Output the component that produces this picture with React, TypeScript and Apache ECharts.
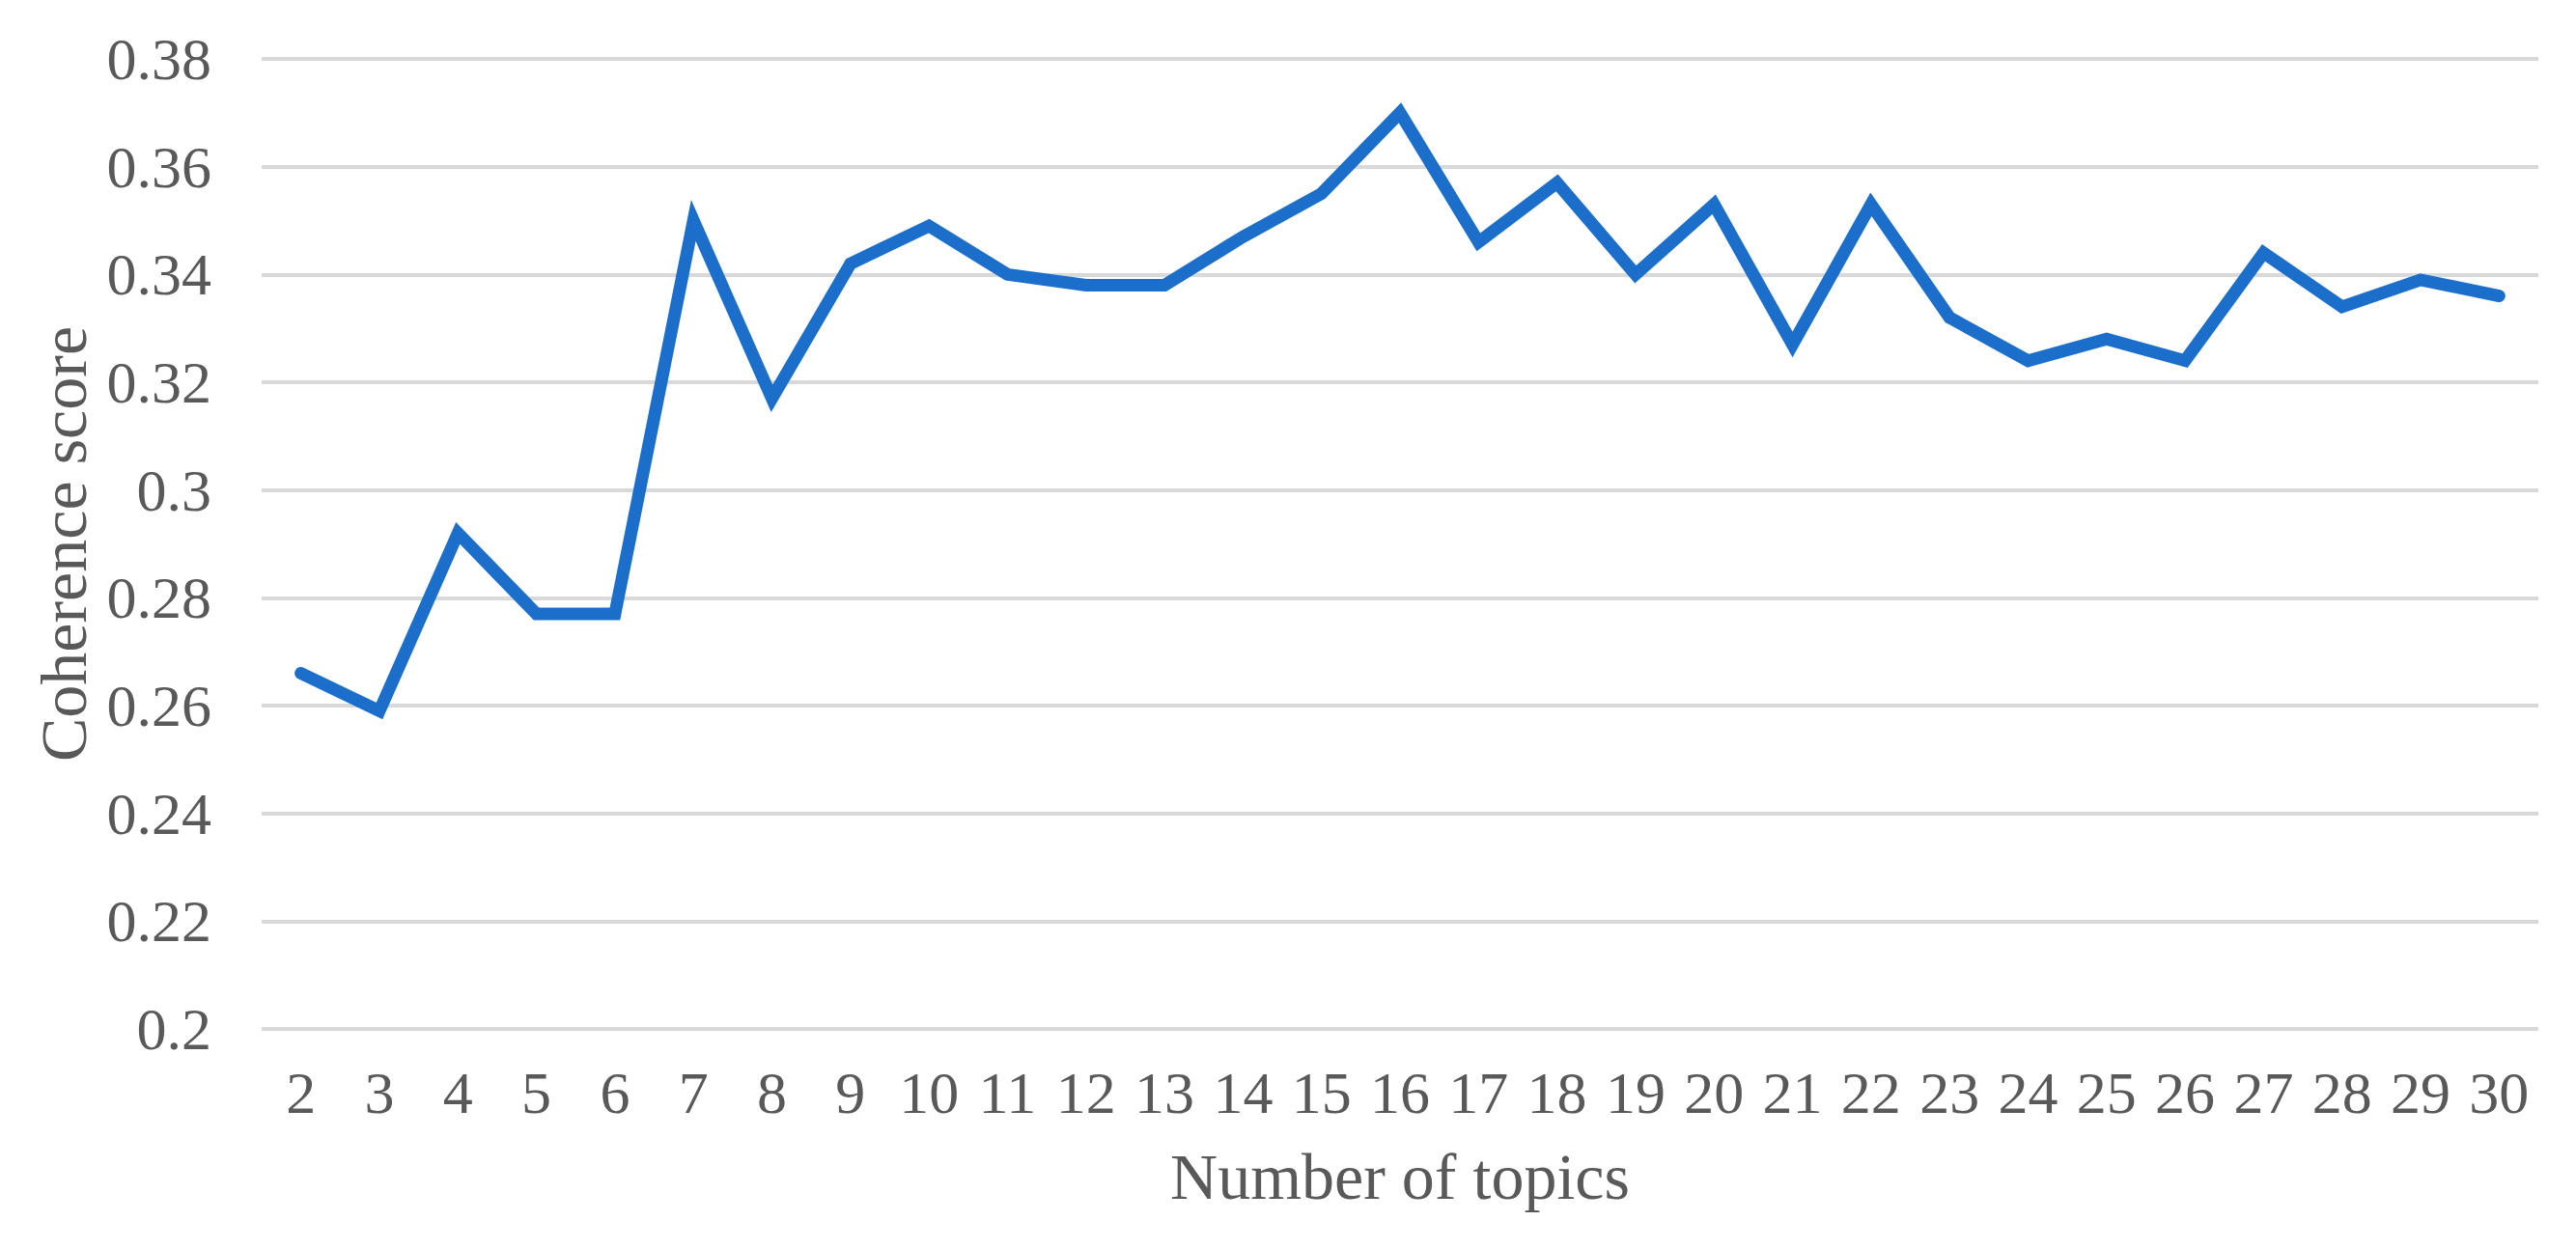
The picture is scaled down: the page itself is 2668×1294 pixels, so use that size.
import React, { useEffect, useRef } from "react";
import * as echarts from "echarts";

const topics = ["2","3","4","5","6","7","8","9","10","11","12","13","14","15","16","17","18","19","20","21","22","23","24","25","26","27","28","29","30"];
const scores = [0.266,0.259,0.292,0.277,0.277,0.350,0.317,0.342,0.349,0.340,0.338,0.338,0.347,0.355,0.370,0.346,0.357,0.340,0.353,0.327,0.353,0.332,0.324,0.328,0.324,0.344,0.334,0.339,0.336];
const yMin = 0.2;
const yMax = 0.38;
const yStep = 0.02;
const xTitle = "Number of topics";
const yTitle = "Coherence score";

const FONT = "Liberation Serif";
const TEXT = "#595959";

export default function App() {
  const ref = useRef<HTMLDivElement>(null);
  useEffect(() => {
    if (!ref.current) return;
    const chart = echarts.init(ref.current, null, { renderer: "svg" });
    chart.setOption({
      animation: false,
      backgroundColor: "#ffffff",
      grid: { left: 271, right: 39, top: 61, bottom: 228, containLabel: false },
      xAxis: {
        type: "category",
        data: topics,
        boundaryGap: true,
        axisLine: { show: false },
        axisTick: { show: false },
        axisLabel: { color: TEXT, fontFamily: FONT, fontSize: 62, margin: 35, interval: 0 },
        name: xTitle,
        nameLocation: "middle",
        nameGap: 119,
        nameTextStyle: { color: TEXT, fontFamily: FONT, fontSize: 68 },
      },
      yAxis: {
        type: "value",
        min: yMin,
        max: yMax,
        interval: yStep,
        axisLine: { show: false },
        axisTick: { show: false },
        axisLabel: {
          color: TEXT,
          fontFamily: FONT,
          fontSize: 62,
          margin: 52,
          formatter: (v: number) => String(+v.toFixed(2)),
        },
        splitLine: { show: true, lineStyle: { color: "#D9D9D9", width: 4 } },
        name: yTitle,
        nameLocation: "middle",
        nameGap: 170,
        nameRotate: 90,
        nameTextStyle: { color: TEXT, fontFamily: FONT, fontSize: 68 },
      },
      series: [
        {
          type: "line",
          data: scores,
          symbol: "none",
          lineStyle: { color: "#1B6FCB", width: 13, join: "miter", cap: "round" },
        },
      ],
    });
    return () => chart.dispose();
  }, []);
  return (
    <div
      ref={ref}
      style={{ position: "absolute", left: 0, top: 0, width: 2668, height: 1294, background: "#fff" }}
    />
  );
}
